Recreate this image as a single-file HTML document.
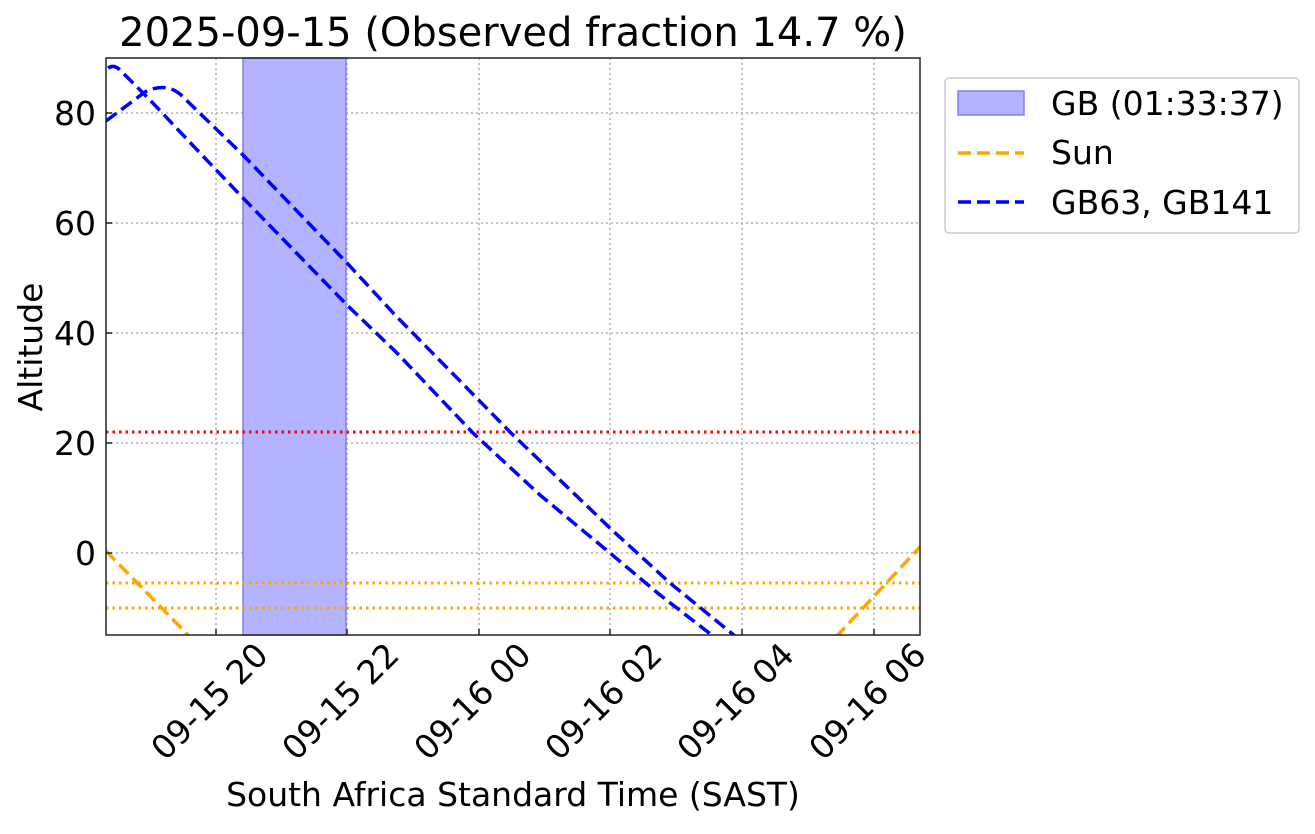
<!DOCTYPE html><html><head><style>body{margin:0;background:#fff}</style></head><body>
<svg width="1315" height="829" xmlns="http://www.w3.org/2000/svg" font-family="DejaVu Sans, Liberation Sans, sans-serif">
<defs><clipPath id="c"><rect x="106" y="58" width="814" height="577"/></clipPath></defs>
<g stroke="#b0b0b0" stroke-width="1.5" stroke-dasharray="2,3">
<line x1="216" y1="58" x2="216" y2="635"/><line x1="347" y1="58" x2="347" y2="635"/><line x1="479" y1="58" x2="479" y2="635"/><line x1="610" y1="58" x2="610" y2="635"/><line x1="742" y1="58" x2="742" y2="635"/><line x1="874" y1="58" x2="874" y2="635"/>
<line x1="106" y1="113" x2="920" y2="113"/><line x1="106" y1="223" x2="920" y2="223"/><line x1="106" y1="333" x2="920" y2="333"/><line x1="106" y1="443" x2="920" y2="443"/><line x1="106" y1="553" x2="920" y2="553"/>
</g>
<rect x="243" y="58" width="103" height="577" fill="#b3b3ff" stroke="#8080ee" stroke-width="1.5"/>
<g clip-path="url(#c)" fill="none" stroke-width="3.5">
<line x1="106" y1="432" x2="920" y2="432" stroke="red" stroke-width="3" stroke-dasharray="2.5,4"/>
<line x1="106" y1="583" x2="920" y2="583" stroke="orange" stroke-width="3" stroke-dasharray="2.5,4"/>
<line x1="106" y1="608" x2="920" y2="608" stroke="orange" stroke-width="3" stroke-dasharray="2.5,4"/>
<path d="M106,551 L190,637 M836,637 L920,547" stroke="orange" stroke-dasharray="13,6"/>
<path d="M108,68 Q114,64 120,70 L150,100 L200,153 L243,198 L347,305 L397,353 L473,433 L540,495 L610,553 L660,595 L713,636" stroke="blue" stroke-dasharray="13,6"/>
<path d="M106,121 L145,92 Q165,82 180,94 L243,155 L347,263 L397,317 L462,383 L510,432 L612,530 L670,583 L735,636" stroke="blue" stroke-dasharray="13,6"/>
</g>
<rect x="106" y="58" width="814" height="577" fill="none" stroke="#222" stroke-width="1.5"/>
<g stroke="#222" stroke-width="1.5">
<line x1="216" y1="635" x2="216" y2="629"/><line x1="347" y1="635" x2="347" y2="629"/><line x1="479" y1="635" x2="479" y2="629"/><line x1="610" y1="635" x2="610" y2="629"/><line x1="742" y1="635" x2="742" y2="629"/><line x1="874" y1="635" x2="874" y2="629"/>
<line x1="106" y1="113" x2="112" y2="113"/><line x1="106" y1="223" x2="112" y2="223"/><line x1="106" y1="333" x2="112" y2="333"/><line x1="106" y1="443" x2="112" y2="443"/><line x1="106" y1="553" x2="112" y2="553"/>
</g>
<g font-size="33" fill="#000" text-anchor="end">
<text x="96" y="125">80</text><text x="96" y="235">60</text><text x="96" y="345">40</text><text x="96" y="455">20</text><text x="96" y="565">0</text>
</g>
<g font-size="33" fill="#000" text-anchor="end">
<text transform="translate(270,657) rotate(-45)">09-15 20</text>
<text transform="translate(401,657) rotate(-45)">09-15 22</text>
<text transform="translate(533,657) rotate(-45)">09-16 00</text>
<text transform="translate(664,657) rotate(-45)">09-16 02</text>
<text transform="translate(796,657) rotate(-45)">09-16 04</text>
<text transform="translate(928,657) rotate(-45)">09-16 06</text>
</g>
<text x="513" y="806" font-size="33" text-anchor="middle">South Africa Standard Time (SAST)</text>
<text transform="translate(42,347) rotate(-90)" font-size="33" text-anchor="middle">Altitude</text>
<text x="513" y="46" font-size="40" text-anchor="middle">2025-09-15 (Observed fraction 14.7 %)</text>
<rect x="945" y="78" width="354" height="155" rx="4" fill="#fff" stroke="#ccc" stroke-width="1.5"/>
<rect x="958" y="91" width="66" height="24" fill="#b3b3ff" stroke="#8080ee" stroke-width="1.5"/>
<line x1="958" y1="153" x2="1024" y2="153" stroke="orange" stroke-width="3.5" stroke-dasharray="13,6"/>
<line x1="958" y1="202" x2="1024" y2="202" stroke="blue" stroke-width="3.5" stroke-dasharray="13,6"/>
<g font-size="33"><text x="1051" y="115">GB (01:33:37)</text><text x="1051" y="164">Sun</text><text x="1051" y="214">GB63, GB141</text></g>
</svg></body></html>
